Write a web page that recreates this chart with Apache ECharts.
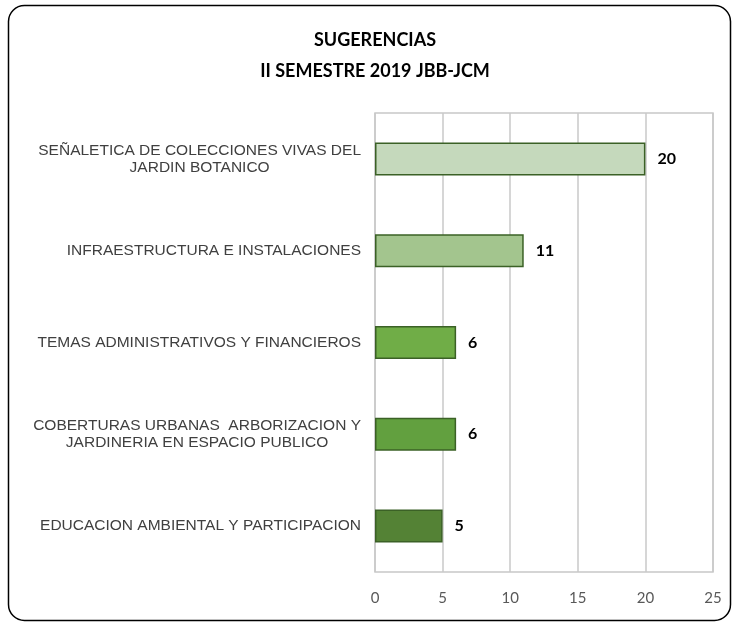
<!DOCTYPE html>
<html>
<head>
<meta charset="utf-8">
<script src="https://cdn.jsdelivr.net/npm/echarts@6/dist/echarts.min.js"></script>
<style>
  html, body { margin: 0; padding: 0; background: #fff; }
  #main { width: 736px; height: 624px; }
</style>
</head>
<body>
<div id="main"></div>
<script>
// datos
const categories = [
    'SEÑALETICA DE COLECCIONES VIVAS DEL\nJARDIN BOTANICO',
    'INFRAESTRUCTURA E INSTALACIONES',
    'TEMAS ADMINISTRATIVOS Y FINANCIEROS',
    'COBERTURAS URBANAS  ARBORIZACION Y\nJARDINERIA EN ESPACIO PUBLICO',
    'EDUCACION AMBIENTAL Y PARTICIPACION'
];
const values = [20, 11, 6, 6, 5];
const barColors = ['#c5d9bc', '#a3c58e', '#70ad47', '#62a03f', '#548235'];
const xTicks = [0, 5, 10, 15, 20, 25];

const chart = echarts.init(document.getElementById('main'));

const option = {
    animation: false,
    backgroundColor: '#fff',
    title: {
        text: 'SUGERENCIAS\nII SEMESTRE 2019 JBB-JCM',
        left: 370,
        top: 20,
        textAlign: 'center',
        textStyle: {
            fontFamily: 'Lato',
            fontWeight: 'bold',
            fontSize: 18,
            lineHeight: 31,
            color: '#000'
        }
    },
    graphic: [{
        type: 'rect',
        shape: { x: 8.5, y: 5.5, width: 722, height: 615, r: 16 },
        style: { fill: 'none', stroke: '#000', lineWidth: 1.5 },
        silent: true
    }],
    grid: {
        left: 375,
        right: 23,
        top: 113,
        bottom: 52,
        show: true,
        borderColor: '#c8c8c8',
        borderWidth: 1.5
    },
    xAxis: {
        type: 'value',
        min: xTicks[0],
        max: xTicks[xTicks.length - 1],
        interval: 5,
        axisLine: { show: false },
        axisTick: { show: false },
        splitLine: { lineStyle: { color: '#c8c8c8', width: 1.5 } },
        axisLabel: {
            margin: 19,
            fontFamily: 'Lato',
            fontSize: 15,
            color: '#595959'
        }
    },
    yAxis: {
        type: 'category',
        inverse: true,
        data: categories,
        axisLine: { show: false },
        axisTick: { show: false },
        axisLabel: {
            margin: 14,
            align: 'right',
            formatter: function (v) {
                return v.split('\n').map(function (s) { return '{c|' + s + '}'; }).join('\n');
            },
            rich: {
                c: {
                    align: 'center',
                    fontFamily: 'Liberation Sans',
                    fontSize: 15.5,
                    lineHeight: 17,
                    color: '#404040'
                }
            }
        }
    },
    series: [{
        type: 'bar',
        data: values.map(function (v, i) {
            return { value: v, itemStyle: { color: barColors[i] } };
        }),
        barWidth: '36%',
        itemStyle: {
            borderColor: '#3b6126',
            borderWidth: 1.5
        },
        label: {
            show: true,
            position: 'right',
            distance: 12,
            fontFamily: 'Lato',
            fontWeight: 'bold',
            fontSize: 16,
            color: '#000'
        }
    }]
};

chart.setOption(option);
</script>
</body>
</html>
